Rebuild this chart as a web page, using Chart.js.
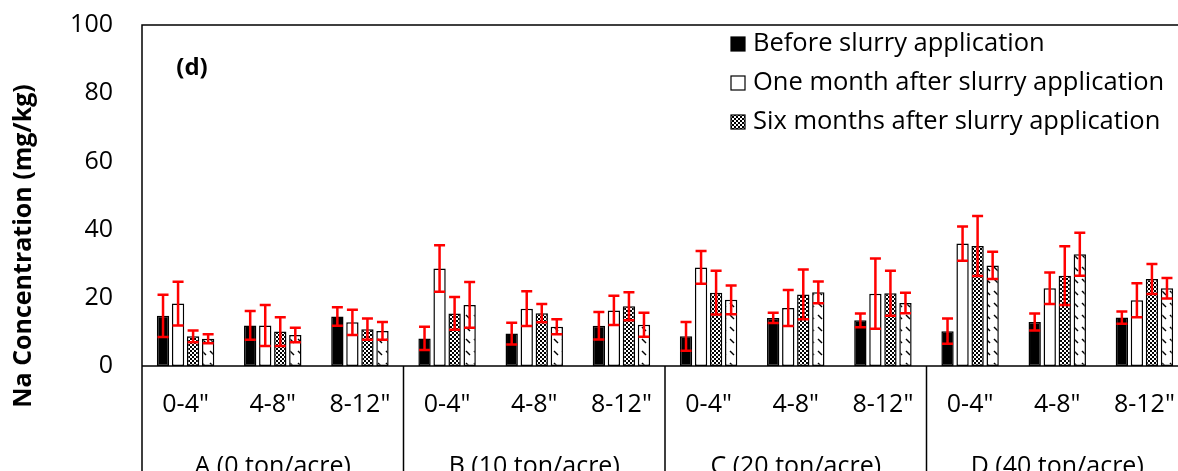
<!DOCTYPE html>
<html>
<head>
<meta charset="utf-8">
<script src="https://cdn.jsdelivr.net/npm/chart.js@4/dist/chart.umd.min.js"></script>
<style>
  html, body { margin: 0; padding: 0; background: #fff; overflow: hidden; }
  #wrap { width: 1204px; height: 471px; }
</style>
</head>
<body>
<div id="wrap"><canvas id="naChart" width="1204" height="471"></canvas></div>
<script>
// Depths and slurry rates
const depths = ['0-4"', '4-8"', '8-12"', '0-4"', '4-8"', '8-12"', '0-4"', '4-8"', '8-12"', '0-4"', '4-8"', '8-12"'];
const groups = ['A (0 ton/acre)', 'B (10 ton/acre)', 'C (20 ton/acre)', 'D (40 ton/acre)'];
const yTicks = [0, 20, 40, 60, 80, 100];

// Na values (mg/kg) and standard deviations
const before = [14.7, 11.9, 14.5, 8.1, 9.5, 11.8, 8.7, 14.1, 13.4, 10.2, 12.9, 14.2];
const beforeErr = [6.2, 4.2, 2.7, 3.4, 3.2, 4.0, 4.2, 1.5, 2.0, 3.7, 2.5, 1.8];
const oneMonth = [18.3, 11.9, 12.8, 28.6, 16.8, 16.3, 28.9, 17.0, 21.2, 35.9, 22.8, 19.3];
const oneMonthErr = [6.4, 6.0, 3.7, 6.8, 5.1, 4.3, 4.8, 5.3, 10.3, 5.0, 4.6, 5.0];
const sixMonths = [8.7, 10.1, 10.8, 15.4, 15.5, 17.5, 21.5, 21.0, 21.3, 35.2, 26.5, 25.5];
const sixMonthsErr = [1.7, 4.2, 3.1, 4.8, 2.7, 4.1, 6.4, 7.3, 6.6, 8.8, 8.6, 4.4];
const lastSample = [8.0, 9.1, 10.3, 17.9, 11.5, 12.1, 19.4, 21.6, 18.5, 29.5, 32.8, 22.8];
const lastSampleErr = [1.3, 2.1, 2.6, 6.7, 2.2, 3.5, 4.2, 3.2, 3.0, 4.0, 6.3, 3.0];

const errores = [beforeErr, oneMonthErr, sixMonthsErr, lastSampleErr];
const fontFam = '"Open Sans", "Liberation Sans", sans-serif';

// Patrones de relleno
function checkerPattern() {
    const c = document.createElement('canvas');
    c.width = 4; c.height = 4;
    const g = c.getContext('2d');
    g.fillStyle = '#fff'; g.fillRect(0, 0, 4, 4);
    g.fillStyle = '#000';
    g.fillRect(0, 0, 2, 2);
    g.fillRect(2, 2, 2, 2);
    return g.createPattern(c, 'repeat');
}

function dashPattern() {
    const c = document.createElement('canvas');
    c.width = 8; c.height = 12;
    const g = c.getContext('2d');
    g.fillStyle = '#fff'; g.fillRect(0, 0, 8, 12);
    g.strokeStyle = '#000'; g.lineWidth = 1.5;
    g.beginPath(); g.moveTo(2, 3); g.lineTo(6, 7); g.stroke();
    return g.createPattern(c, 'repeat');
}

const checker = checkerPattern();
const dashes = dashPattern();

// Barras de error, marco, etiquetas de grupo y leyenda
const extras = {
    id: 'extras',
    afterDatasetsDraw(chart) {
        const ctx = chart.ctx;
        const y = chart.scales.y;
        const x = chart.scales.x;
        const area = chart.chartArea;
        const H = chart.height;

        ctx.save();
        // error bars
        ctx.strokeStyle = '#ff0000';
        ctx.lineWidth = 2.5;
        chart.data.datasets.forEach((ds, i) => {
            const meta = chart.getDatasetMeta(i);
            meta.data.forEach((bar, j) => {
                const v = ds.data[j], e = errores[i][j];
                const yt = y.getPixelForValue(v + e);
                const yb = y.getPixelForValue(v - e);
                ctx.beginPath();
                ctx.moveTo(bar.x, yt); ctx.lineTo(bar.x, yb);
                ctx.moveTo(bar.x - 5.5, yt); ctx.lineTo(bar.x + 5.5, yt);
                ctx.moveTo(bar.x - 5.5, yb); ctx.lineTo(bar.x + 5.5, yb);
                ctx.stroke();
            });
        });

        // frame
        ctx.strokeStyle = '#000';
        ctx.lineWidth = 1.5;
        ctx.beginPath();
        ctx.moveTo(area.left, H); ctx.lineTo(area.left, area.top); ctx.lineTo(area.right, area.top);
        ctx.moveTo(area.left, area.bottom); ctx.lineTo(area.right, area.bottom);
        for (let g = 1; g < groups.length; g++) {
            const bx = (x.getPixelForValue(g * 3 - 1) + x.getPixelForValue(g * 3)) / 2;
            ctx.moveTo(bx, area.bottom); ctx.lineTo(bx, H);
        }
        ctx.stroke();

        // group labels
        ctx.fillStyle = '#000';
        ctx.font = '25px ' + fontFam;
        ctx.textAlign = 'center';
        ctx.textBaseline = 'middle';
        groups.forEach((g, k) => {
            const cx = (x.getPixelForValue(k * 3) + x.getPixelForValue(k * 3 + 2)) / 2;
            ctx.fillText(g, cx, 467);
        });

        // y title
        ctx.save();
        ctx.translate(24, 246);
        ctx.rotate(-Math.PI / 2);
        ctx.font = 'bold 25px ' + fontFam;
        ctx.fillText('Na Concentration (mg/kg)', 0, 0);
        ctx.restore();

        // panel letter
        ctx.font = 'bold 24px ' + fontFam;
        ctx.fillText('(d)', 192, 68);

        // legend (three entries)
        ctx.font = '25.5px ' + fontFam;
        ctx.textAlign = 'left';
        const filas = [44, 83, 122];
        chart.data.datasets.slice(0, 3).forEach((ds, i) => {
            const ly = filas[i];
            ctx.fillStyle = ds.backgroundColor;
            ctx.fillRect(731, ly - 7, 14, 14);
            ctx.lineWidth = 1.2;
            ctx.strokeStyle = '#000';
            ctx.strokeRect(731, ly - 7, 14, 14);
            ctx.fillStyle = '#000';
            ctx.fillText(ds.label, 753, ly);
        });
        ctx.restore();
    }
};

const ctx = document.getElementById('naChart');

const naChart = new Chart(ctx, {
    type: 'bar',
    data: {
        labels: depths,
        datasets: [
            { label: 'Before slurry application', data: before, backgroundColor: '#000' },
            { label: 'One month after slurry application', data: oneMonth, backgroundColor: '#fff' },
            { label: 'Six months after slurry application', data: sixMonths, backgroundColor: checker },
            { label: 'Last sampling', data: lastSample, backgroundColor: dashes }
        ]
    },
    options: {
        responsive: false,
        animation: false,
        devicePixelRatio: 1,
        layout: { autoPadding: false, padding: { top: 25, right: 16, left: 0, bottom: 0 } },
        datasets: {
            bar: {
                categoryPercentage: 0.69,
                barPercentage: 0.82,
                borderColor: '#000',
                borderWidth: 1.5,
                borderSkipped: false
            }
        },
        plugins: {
            legend: { display: false },
            tooltip: { enabled: false }
        },
        scales: {
            x: {
                grid: { display: false, drawTicks: false },
                border: { display: false },
                ticks: { color: '#000', font: { family: fontFam, size: 25 }, padding: 24, maxRotation: 0, autoSkip: false },
                afterFit(scale) {
                    scale.height = 105;
                    scale.paddingLeft = 0;
                    scale.paddingRight = 0;
                }
            },
            y: {
                min: 0,
                max: 100,
                grid: { display: false, drawTicks: false },
                border: { display: false },
                afterBuildTicks(scale) { scale.ticks = yTicks.map(v => ({ value: v })); },
                ticks: { color: '#000', font: { family: fontFam, size: 25 }, padding: 29 },
                afterFit(scale) {
                    scale.width = 142;
                    scale.paddingTop = 0;
                    scale.paddingBottom = 0;
                }
            }
        }
    },
    plugins: [extras]
});
</script>
</body>
</html>
